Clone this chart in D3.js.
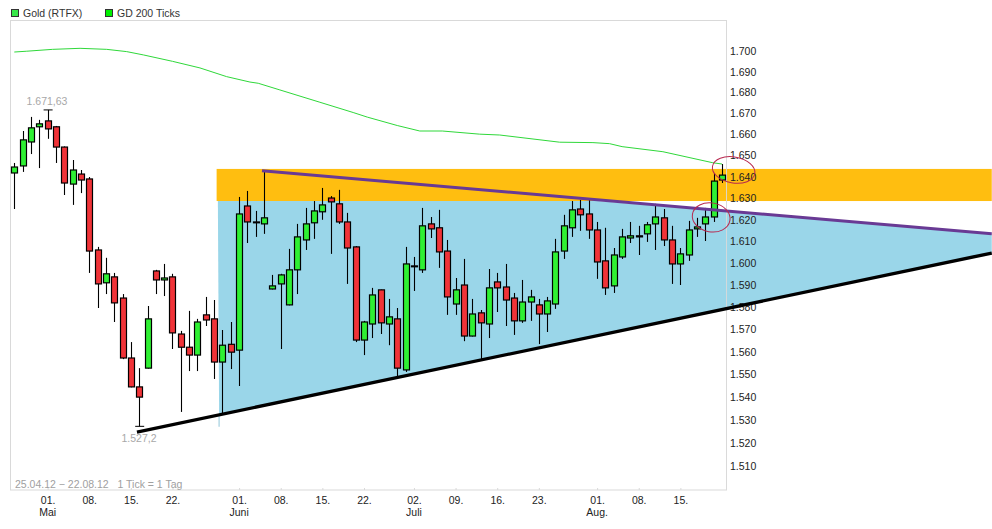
<!DOCTYPE html>
<html>
<head>
<meta charset="utf-8">
<script src="https://cdn.jsdelivr.net/npm/d3@7"></script>
<style>
html,body{margin:0;padding:0;background:#fff;}
svg{display:block;}
text{font-family:"Liberation Sans",Arial,sans-serif;}
</style>
</head>
<body>
<svg id="c" width="992" height="529"></svg>
<script>
// Daily candles, 25.04.12 - 22.08.12
const opens=[1641.8,1645.1,1656.4,1663.6,1666.4,1663.6,1654,1636.6,1641.3,1639,1606.1,1591.1,1593.8,1584.2,1557.3,1544.5,1552.8,1596.5,1592.4,1593.8,1568,1562.1,1558.6,1576.6,1574.8,1555.5,1563.4,1560.8,1626.4,1619,1618.1,1588.3,1590.6,1581.1,1597,1610.7,1618.6,1623.7,1630.1,1627.4,1619,1607.5,1565.3,1572.5,1587.9,1572.5,1574.8,1552,1598.8,1597,1618.1,1616.3,1605.6,1581.5,1590.1,1567.1,1577.5,1572.5,1591.5,1589.2,1584.2,1573.9,1582.4,1581.1,1577,1581.5,1605.6,1616.3,1625,1622.7,1615.3,1601.1,1589.7,1602.9,1611.6,1612.6,1613.5,1618.1,1620.9,1610.7,1599.7,1603.8,1615.8,1618.1,1621.3,1638.5];
const closes=[1644.6,1657.4,1663.1,1665,1662.6,1654,1637.1,1643.2,1638.5,1605.6,1590.6,1595.2,1582,1557.3,1544.5,1540,1574.8,1592.4,1593.3,1568.5,1562.1,1558.6,1573.4,1574.3,1555.5,1563,1559.9,1622.7,1619,1618.6,1620.9,1589.7,1594.7,1597,1612.1,1618.1,1624.1,1626.9,1628.3,1619,1607,1565.3,1573.4,1585.6,1573,1575.7,1552.8,1599.7,1598.4,1617.2,1615.8,1605.2,1584.7,1587.9,1567.1,1577,1573,1588.8,1588.8,1583.3,1573.9,1582.4,1584.7,1577,1582.9,1605.2,1617.2,1624.6,1622.3,1615.3,1600.6,1588.8,1603.8,1612.1,1612.6,1612.1,1617.7,1621.3,1610.7,1599.7,1604.3,1615.3,1616.7,1621.3,1638,1640.8];
const highs=[1646.5,1661.6,1668.3,1666.9,1671.63,1664,1654.3,1647.9,1643.2,1639.9,1607.5,1602.5,1595.6,1586,1564.4,1552.8,1580.6,1597,1599.7,1595.2,1569.4,1578.4,1574.8,1584.7,1583.3,1569.8,1573.4,1630.6,1633.4,1624.1,1642.8,1594.7,1595.2,1606.6,1618.1,1625.5,1628.7,1634.8,1631,1633.9,1623.2,1607.9,1573.9,1588.8,1588,1583.8,1579.7,1607.5,1602.9,1625.5,1621.3,1624.6,1610.7,1593.3,1602,1583.8,1578.8,1597.4,1595.6,1599.7,1586.5,1592.4,1587.9,1583.8,1584.7,1611.2,1622.3,1628.7,1629.2,1629.7,1619,1616.3,1607,1615.8,1619,1617.2,1619,1627.4,1625,1617.2,1607,1619.5,1620.9,1625.5,1641.8,1646];
const lows=[1625,1642.3,1650.7,1644.1,1657.9,1646.5,1631.5,1626.9,1632.4,1595.6,1579.7,1586,1573.4,1556.8,1544.3,1527.2,1552.6,1586,1585.1,1561.3,1533.5,1551.5,1551.5,1571.6,1548,1532.6,1552.4,1544.9,1609.3,1612.1,1613.5,1588.1,1561.3,1580.9,1586,1606.1,1611.2,1620,1604.3,1618.1,1590.6,1564.4,1558.6,1566.2,1568,1563,1548.9,1551.1,1587.4,1595.6,1611.6,1597.9,1576.6,1576.6,1564.8,1566.9,1556.8,1566.2,1577.9,1571.6,1567.6,1573,1573.9,1563.5,1568.9,1579.3,1602,1612.1,1614.9,1611.2,1592.9,1585.6,1586.5,1602,1609.3,1603.8,1609.8,1606.1,1607.9,1590.6,1590.1,1601.1,1612.1,1610.2,1619,1637.1];

// GD 200 moving average, read at these candle positions
const gdIndex=[0,1.5,4.6,7.9,11.1,13.5,15.5,19,22.3,25.5,28.3,29.3,31.9,36.7,40.7,42.4,46,48.7,51.4,55.9,58.3,65.5,69.5,71.5,73,77.9,83.9,85];
const gdValues=[1699.5,1699.9,1700.8,1701.3,1700.8,1699.7,1698.1,1695,1691.8,1687.6,1685,1684.4,1681.2,1675.3,1670.4,1668.2,1664.2,1661.6,1661.6,1660.1,1659.7,1656.3,1656.1,1655.6,1654.2,1651.8,1646.6,1646];

// Axis labels
const priceTicks=[1510,1520,1530,1540,1550,1560,1570,1580,1590,1600,1610,1620,1630,1640,1650,1660,1670,1680,1690,1700];
const dayTickIndex=[4,9,14,19,27,32,37,42,48,53,58,63,70,75,80];
const dayTickLabels=["01.","08.","15.","22.","01.","08.","15.","22.","02.","09.","16.","23.","01.","08.","15."];
const monthTickIndex=[4,27,48,70];
const monthTickLabels=["Mai","Juni","Juli","Aug."];

// Drawn annotations, as candle position / price
const bandIndex=[24.3,117.4];
const bandPrice=[1628.7,1643.7];
const resistanceIndex=[29.75,117.4];
const resistancePrice=[1642.8,1613.5];
const supportIndex=[14.73,117.4];
const supportPrice=[1524.7,1604.7];
const wedgeIndex=[24.45,70.2,117.4,117.4,24.6];
const wedgePrice=[1628.7,1628.7,1613.5,1604.7,1532.2];
const circleIndex=[86.4,83.7];
const circlePrice=[1643.2,1621.1];

const svg=d3.select("#c");
const x=d3.scaleLinear().domain([0,85]).range([14.3,722]);
const y=d3.scaleLog().domain([1510,1700]).range([466,51]);

// Frame
svg.append("rect").attr("x",10.5).attr("y",20.5).attr("width",716).attr("height",469.5)
  .attr("fill","#fff").attr("stroke","#d9d9d9");

// Orange band and blue wedge
svg.append("rect").attr("x",x(bandIndex[0])).attr("y",y(bandPrice[1]))
  .attr("width",x(bandIndex[1])-x(bandIndex[0])).attr("height",y(bandPrice[0])-y(bandPrice[1]))
  .attr("fill","#ffbe10");
svg.append("polygon")
  .attr("points",wedgeIndex.map((d,i)=>x(d)+","+y(wedgePrice[i])).join(" "))
  .attr("fill","#9ad6e9");
svg.append("line").attr("x1",x(24.6)).attr("x2",x(24.6)).attr("y1",y(1532.2)).attr("y2",y(1527))
  .attr("stroke","#b5d9e6").attr("stroke-width",1.5);

// Right-hand frame line passes over the fills
svg.append("line").attr("x1",726.5).attr("x2",726.5).attr("y1",20.5).attr("y2",490)
  .attr("stroke","#d9d9d9").attr("stroke-opacity",0.9);

// Axes
const yAxis=d3.axisRight(y).tickValues(priceTicks).tickSize(0).tickPadding(0)
  .tickFormat(d=>"1."+String(d-1000).padStart(3,"0"));
const gy=svg.append("g").attr("transform","translate(730,0)").call(yAxis);
gy.select(".domain").remove();
gy.selectAll("text").attr("fill","#222").attr("font-size",10.5).attr("font-family","Liberation Sans");

const dayLabel=new Map(dayTickIndex.map((d,i)=>[d,dayTickLabels[i]]));
const xAxis=d3.axisBottom(x).tickValues(dayTickIndex).tickSize(2).tickPadding(5)
  .tickFormat(d=>dayLabel.get(d));
const gx=svg.append("g").attr("transform","translate(0,490)").call(xAxis);
gx.select(".domain").remove();
gx.selectAll("line").attr("stroke","#d9d9d9").attr("y2",-2);
gx.selectAll("text").attr("fill","#222").attr("font-size",10.5).attr("font-family","Liberation Sans");

svg.append("g").selectAll("text").data(monthTickIndex).join("text")
  .attr("x",d=>x(d)).attr("y",516).attr("text-anchor","middle")
  .attr("font-size",10.5).attr("fill","#222")
  .text((d,i)=>monthTickLabels[i]);

// GD 200 line
svg.append("path").datum(gdIndex)
  .attr("d",d3.line().x(d=>x(d)).y((d,i)=>y(gdValues[i])))
  .attr("fill","none").attr("stroke","#2fd83a").attr("stroke-width",1);

// Candles
const idx=d3.range(opens.length);
const g=svg.append("g");
g.selectAll("line").data(idx).join("line")
  .attr("x1",i=>Math.round(x(i))+0.5).attr("x2",i=>Math.round(x(i))+0.5)
  .attr("y1",i=>y(highs[i])).attr("y2",i=>y(lows[i]))
  .attr("stroke","#000").attr("stroke-width",1.1);
g.selectAll("rect").data(idx).join("rect")
  .attr("x",i=>Math.round(x(i))-2.5).attr("width",6)
  .attr("y",i=>y(Math.max(opens[i],closes[i])))
  .attr("height",i=>Math.abs(y(opens[i])-y(closes[i])))
  .attr("fill",i=>closes[i]>=opens[i]?"#2ff033":"#f03338")
  .attr("stroke","#000").attr("stroke-width",1.2);

// High / low markers
[4,15].forEach(i=>{
  svg.append("line").attr("x1",x(i)-4).attr("x2",x(i)+5)
    .attr("y1",y(i===4?highs[i]:lows[i])).attr("y2",y(i===4?highs[i]:lows[i]))
    .attr("stroke","#000").attr("stroke-width",1);
});

// Trend lines
svg.append("line").attr("x1",x(resistanceIndex[0])).attr("x2",x(resistanceIndex[1]))
  .attr("y1",y(resistancePrice[0])).attr("y2",y(resistancePrice[1]))
  .attr("stroke","#693a94").attr("stroke-width",3);
svg.append("line").attr("x1",x(supportIndex[0])).attr("x2",x(supportIndex[1]))
  .attr("y1",y(supportPrice[0])).attr("y2",y(supportPrice[1]))
  .attr("stroke","#000").attr("stroke-width",3.3);

// Red circles
const radii=[[21.5,13],[19,14.5]];
svg.append("g").selectAll("ellipse").data(circleIndex).join("ellipse")
  .attr("rx",(d,i)=>radii[i][0]).attr("ry",(d,i)=>radii[i][1])
  .attr("transform",(d,i)=>`translate(${x(d)},${y(circlePrice[i])}) rotate(10)`)
  .attr("fill","none").attr("stroke","#b8284f").attr("stroke-width",1);

// Extreme labels
svg.append("text").attr("x",47).attr("y",105).attr("text-anchor","middle")
  .attr("font-size",10.5).attr("fill","#a8a8a8").text("1.671,63");
svg.append("text").attr("x",139).attr("y",442).attr("text-anchor","middle")
  .attr("font-size",10.5).attr("fill","#a8a8a8").text("1.527,2");
svg.append("text").attr("x",15).attr("y",488)
  .attr("font-size",10.5).attr("fill","#a0a0a0").text("25.04.12 \u2212 22.08.12   1 Tick = 1 Tag")
  .style("white-space","pre");

// Legend
const legend=[{t:"Gold (RTFX)",x:11,c:"#38e84a"},{t:"GD 200 Ticks",x:105,c:"#00f000"}];
const lg=svg.append("g").selectAll("g").data(legend).join("g");
lg.append("rect").attr("x",d=>d.x+0.5).attr("y",9.5).attr("width",7).attr("height",7)
  .attr("fill",d=>d.c).attr("stroke","#333");
lg.append("text").attr("x",d=>d.x+12).attr("y",17)
  .attr("font-size",10.5).attr("fill","#333").text(d=>d.t);
</script>
</body>
</html>
